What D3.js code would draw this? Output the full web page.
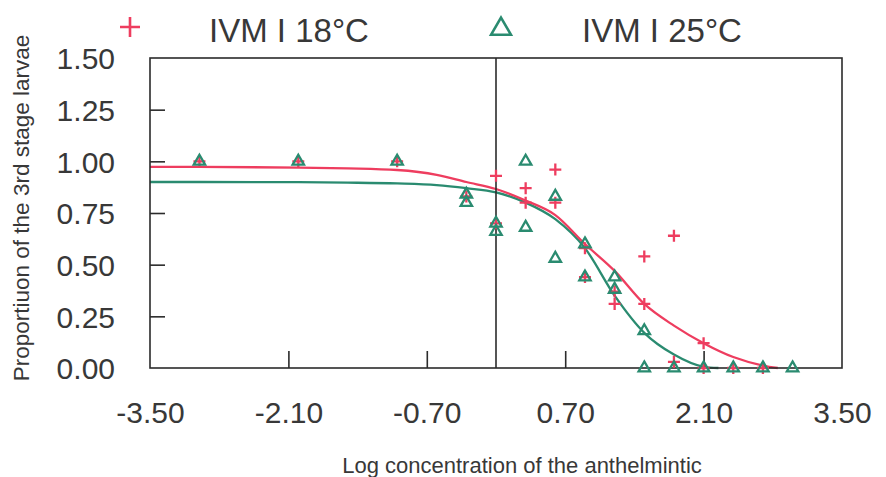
<!DOCTYPE html>
<html>
<head>
<meta charset="utf-8">
<script src="https://cdn.jsdelivr.net/npm/d3@7"></script>
<style>
  html, body { margin: 0; padding: 0; background: #ffffff; }
  svg text { font-family: "Liberation Sans", Arial, sans-serif; fill: #383838; }
</style>
</head>
<body>
<svg id="chart" width="886" height="477"></svg>
<script>
// ---- data ----
const seriesNames = ["IVM I 18°C", "IVM I 25°C"];
const xTicks = [-3.5, -2.1, -0.7, 0.7, 2.1, 3.5];
const yTicks = [0, 0.25, 0.5, 0.75, 1.0, 1.25, 1.5];

// observed points: [log concentration, proportion]
const obs18 = [
  [-3, 1.00], [-2, 1.00], [-1, 1.00],
  [-0.3, 0.83],
  [0, 0.93], [0, 0.70],
  [0.3, 0.87], [0.3, 0.80],
  [0.6, 0.96], [0.6, 0.80],
  [0.9, 0.58], [0.9, 0.44],
  [1.2, 0.37], [1.2, 0.31],
  [1.5, 0.54], [1.5, 0.31],
  [1.8, 0.64], [1.8, 0.03],
  [2.1, 0.12], [2.1, 0.00],
  [2.4, 0.00], [2.7, 0.00]
];
const obs25 = [
  [-3, 1.00], [-2, 1.00], [-1, 1.00],
  [-0.3, 0.84], [-0.3, 0.80],
  [0, 0.70], [0, 0.66],
  [0.3, 1.00], [0.3, 0.68],
  [0.6, 0.83], [0.6, 0.53],
  [0.9, 0.60], [0.9, 0.44],
  [1.2, 0.44], [1.2, 0.38],
  [1.5, 0.18], [1.5, 0.00],
  [1.8, 0.00], [2.1, 0.00], [2.4, 0.00], [2.7, 0.00], [3.0, 0.00]
];

// fitted curves, values
const fit18 = [
  [-3.5, 0.973], [-3, 0.973], [-2, 0.970], [-1.5, 0.966], [-1, 0.958],
  [-0.6, 0.935], [-0.3, 0.90], [0, 0.866], [0.3, 0.81], [0.6, 0.74],
  [0.9, 0.60], [1.2, 0.47], [1.5, 0.31], [1.8, 0.205], [2.1, 0.12],
  [2.4, 0.053], [2.7, 0.012], [2.85, 0.0]
];
const fit25 = [
  [-3.5, 0.90], [-3, 0.90], [-2, 0.899], [-1.5, 0.897], [-1, 0.893],
  [-0.6, 0.885], [-0.3, 0.87], [0, 0.85], [0.3, 0.80], [0.6, 0.72],
  [0.9, 0.58], [1.2, 0.35], [1.5, 0.17], [1.8, 0.065], [2.1, 0.006],
  [2.25, 0.0]
];

const colors = ["#ee3d5f", "#2a8b70"];

// ---- layout ----
const svg = d3.select("#chart");
const L = 150, R = 842, T = 58, B = 368;
const x = d3.scaleLinear().domain([-3.5, 3.5]).range([L, R]);
const y = d3.scaleLinear().domain([0, 1.5]).range([B, T]);
const fmt = d => d.toFixed(2);  // plain hyphen-minus like the reference

// curves
const line = d3.line().x(d => x(d[0])).y(d => y(d[1])).curve(d3.curveMonotoneX);
svg.append("path").datum(fit25).attr("d", line)
  .attr("fill", "none").attr("stroke", colors[1]).attr("stroke-width", 2.3);
svg.append("path").datum(fit18).attr("d", line)
  .attr("fill", "none").attr("stroke", colors[0]).attr("stroke-width", 2.3);

// axes (ticks inside the box)
const xAxis = d3.axisBottom(x).tickValues(xTicks).tickFormat(fmt).tickSize(0).tickPadding(0);
const gx = svg.append("g").attr("transform", `translate(0,${B})`).call(xAxis);
gx.select(".domain").remove();
gx.selectAll("text").attr("y", 55).attr("dy", 0)
  .style("font-size", "30px").attr("fill", "#383838");
gx.selectAll(".tick").filter(d => d > -3.5 && d < 3.5).append("line")
  .attr("y1", 0).attr("y2", -17).attr("stroke", "#2b2b2b").attr("stroke-width", 1.6);

const yAxis = d3.axisLeft(y).tickValues(yTicks).tickFormat(fmt).tickSize(0).tickPadding(35);
const gy = svg.append("g").attr("transform", `translate(${L},0)`).call(yAxis);
gy.select(".domain").remove();
gy.selectAll("text").style("font-size", "30px").attr("fill", "#383838").attr("dy", "0.36em");
gy.selectAll(".tick").filter(d => d > 0 && d < 1.5).append("line")
  .attr("x1", 0).attr("x2", 15).attr("stroke", "#2b2b2b").attr("stroke-width", 1.6);

// box
svg.append("rect").attr("x", L).attr("y", T).attr("width", R - L).attr("height", B - T)
  .attr("fill", "none").attr("stroke", "#2b2b2b").attr("stroke-width", 1.6);
// vertical reference line at log concentration 0
svg.append("line").attr("x1", x(0)).attr("x2", x(0)).attr("y1", T).attr("y2", B)
  .attr("stroke", "#2b2b2b").attr("stroke-width", 1.6);

// markers
const tri = d3.symbol().type(d3.symbolTriangle).size(56);
function plus(s) { return `M${-s},0H${s}M0,${-s}V${s}`; }

svg.append("g").selectAll("path").data(obs18).join("path")
  .attr("transform", d => `translate(${x(d[0])},${y(d[1])})`)
  .attr("d", plus(6)).attr("fill", "none").attr("stroke", colors[0]).attr("stroke-width", 2.3);

svg.append("g").selectAll("path").data(obs25).join("path")
  .attr("transform", d => `translate(${x(d[0])},${y(d[1])})`)
  .attr("d", tri).attr("fill", "none").attr("stroke", colors[1]).attr("stroke-width", 2.3);

// axis titles
svg.append("text").attr("x", 522).attr("y", 473).attr("text-anchor", "middle")
  .style("font-size", "22px").text("Log concentration of the anthelmintic");
svg.append("text").attr("transform", "translate(29,208) rotate(-90)").attr("text-anchor", "middle")
  .style("font-size", "22.5px").text("Proportiuon of the 3rd stage larvae");

// legend
const lg = svg.append("g");
lg.append("path").attr("transform", "translate(130,27)").attr("d", plus(10))
  .attr("fill", "none").attr("stroke", colors[0]).attr("stroke-width", 2.6);
lg.append("text").attr("x", 209).attr("y", 42).style("font-size", "33px").text(seriesNames[0]);
lg.append("path").attr("transform", "translate(501,29)")
  .attr("d", d3.symbol().type(d3.symbolTriangle).size(170)())
  .attr("fill", "none").attr("stroke", colors[1]).attr("stroke-width", 2.6);
lg.append("text").attr("x", 582).attr("y", 42).style("font-size", "33px").text(seriesNames[1]);
</script>
</body>
</html>
